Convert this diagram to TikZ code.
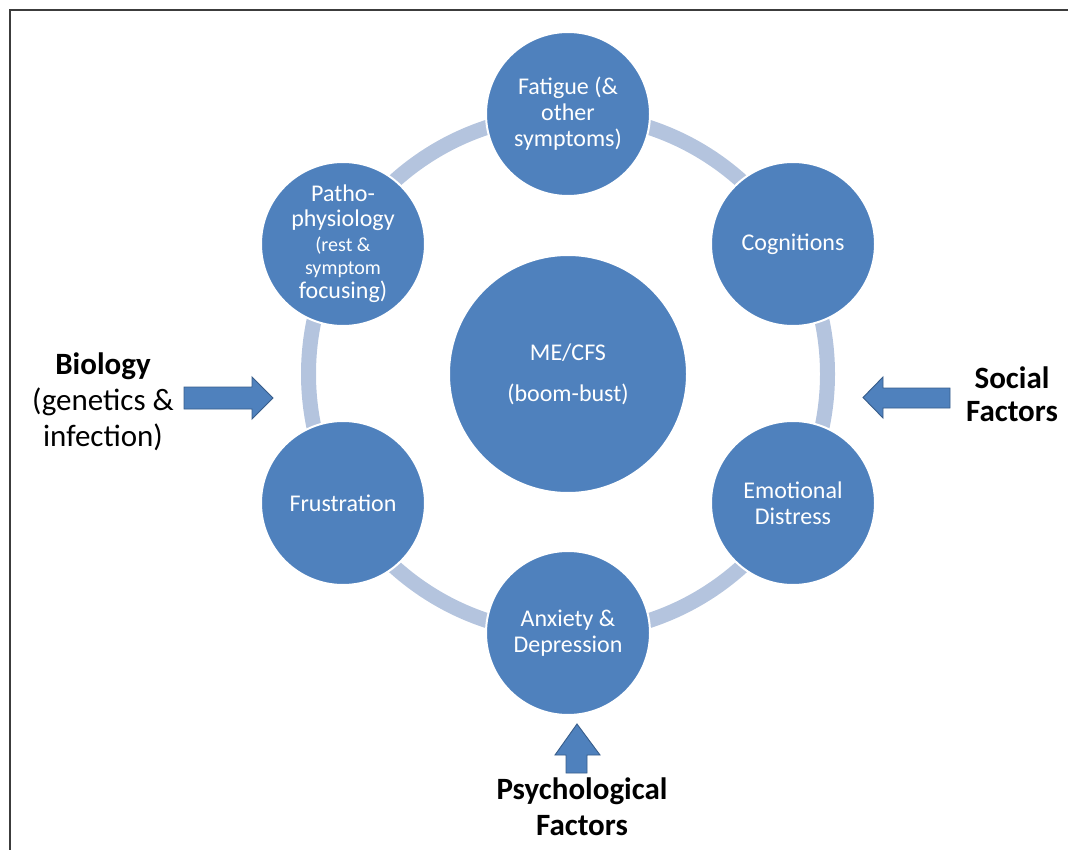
\documentclass[tikz,border=0pt]{standalone}
\usepackage{fontspec}
\setmainfont{Carlito}
\definecolor{cblue}{RGB}{79,129,189}
\definecolor{ringblue}{RGB}{180,196,222}
\definecolor{arrline}{RGB}{56,93,138}
\definecolor{framegrey}{RGB}{60,60,60}
\begin{document}
\begin{tikzpicture}[x=1pt,y=-1pt,
  bubble/.style={circle,fill=cblue,draw=white,line width=2pt,minimum size=164pt,inner sep=0pt,
    text=white,align=center,font=\fontsize{24}{26}\selectfont},
  hub/.style={bubble,minimum size=238pt},
  blockarrow/.style={fill=cblue,draw=arrline,line width=0.9pt,line join=miter},
  factor/.style={text=black,align=center,font=\fontsize{31}{36}\selectfont}]
\useasboundingbox (0,0) rectangle (1068,850);
\draw[framegrey,line width=1.5pt] (10,860) -- (10,10) -- (1080,10);
\coordinate (c) at (568,374);
\draw[ringblue,line width=15pt] (c) circle (259.5);
\node[hub] (me) at (c) {ME/CFS\\[15pt](boom-bust)};
\node[bubble] (fat) at (568,114) {Fatigue (\&\\other\\symptoms)};
\node[bubble] (cog) at (793,244) {Cognitions};
\node[bubble] (emo) at (793,503) {Emotional\\Distress};
\node[bubble] (anx) at (568,633) {Anxiety \&\\Depression};
\node[bubble] (fru) at (343,503) {Frustration};
\node[bubble] (pat) at (343,244) {Patho-\\[-1pt]physiology\\[-1pt]{\fontsize{20}{24}\selectfont(rest \&}\\[-3pt]{\fontsize{20}{24}\selectfont symptom}\\[-2pt]focusing)};
% block arrows
\draw[blockarrow] (184,387) -- (252,387) -- (252,377) -- (273,398) -- (252,419) -- (252,409) -- (184,409) -- cycle;
\draw[blockarrow] (950,388) -- (883,388) -- (883,377) -- (863,397.5) -- (883,418) -- (883,408) -- (950,408) -- cycle;
\draw[blockarrow] (566,773) -- (566,755) -- (555,755) -- (577,724) -- (600,755) -- (587,755) -- (587,773) -- cycle;
% factor labels
\node[factor] (bio) at (103,402) {\textbf{Biology}\\(genetics \&\\infection)};
\node[factor,font=\fontsize{31}{33}\selectfont\bfseries] (soc) at (1012,394) {Social\\Factors};
\node[factor,font=\fontsize{31}{36}\selectfont\bfseries] (psy) at (582,807) {Psychological\\Factors};
\end{tikzpicture}
\end{document}
